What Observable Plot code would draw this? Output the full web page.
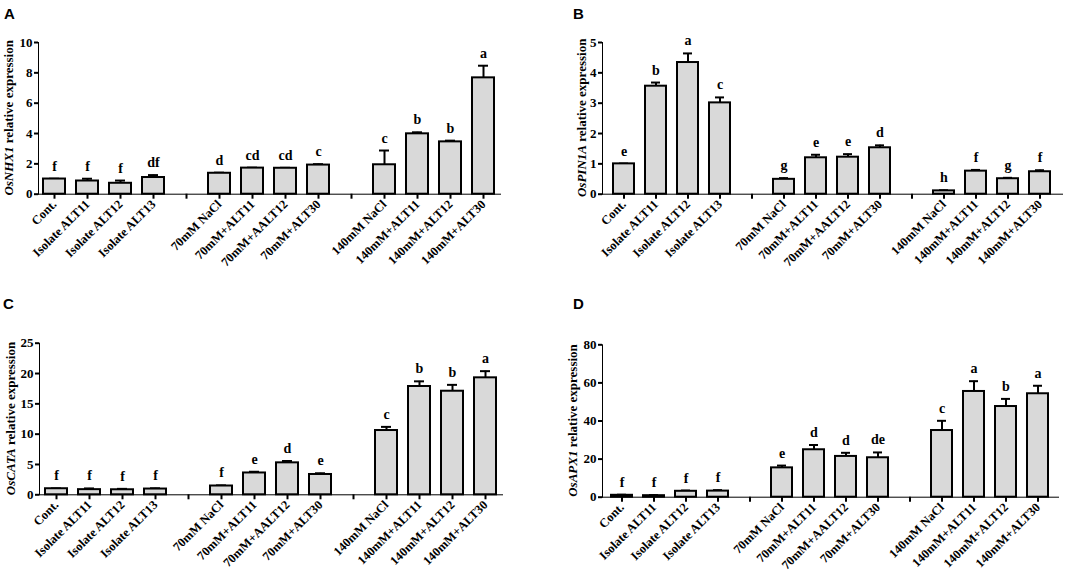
<!DOCTYPE html>
<html><head><meta charset="utf-8">
<script src="https://cdn.jsdelivr.net/npm/d3@7"></script>
<script src="https://cdn.jsdelivr.net/npm/@observablehq/plot@0.6"></script>
<style>
body{margin:0;background:#fff;}
#wrap{position:relative;width:1084px;height:577px;overflow:hidden;background:#fff;}
.panel{position:absolute;}
.plabel{position:absolute;font-family:"Liberation Sans",Arial,sans-serif;font-weight:bold;font-size:15px;line-height:1;color:#000;}
.panel svg text{fill:#000;}
.panel g[aria-label="x-axis tick label"] text{font-size:12.5px;}
.panel g[aria-label*="axis"] line, .panel g[aria-label*="axis"] path{stroke-width:2px;stroke:#000;}
</style>
</head><body>
<div id="wrap"></div>
<script>
// Categories (x axis), with two empty slots separating the three groups
const categories = ["Cont.", "Isolate ALT11", "Isolate ALT12", "Isolate ALT13",
  "70mM NaCl", "70mM+ALT11", "70mM+AALT12", "70mM+ALT30",
  "140mM NaCl", "140mM+ALT11", "140mM+ALT12", "140mM+ALT30"];
const slots = [...categories.slice(0, 4), "gap1", ...categories.slice(4, 8), "gap2", ...categories.slice(8)];

// Panel A: OsNHX1
const nhx1Mean = [1.0, 0.87, 0.72, 1.1, 1.38, 1.72, 1.71, 1.92, 1.94, 3.98, 3.45, 7.67];
const nhx1Err  = [0.02, 0.15, 0.18, 0.16, 0.04, 0.03, 0.03, 0.06, 0.94, 0.1, 0.08, 0.8];
const nhx1Sig  = ["f", "f", "f", "df", "d", "cd", "cd", "c", "c", "b", "b", "a"];
const nhx1Ticks = [0, 2, 4, 6, 8, 10];

// Panel B: OsPIN1A
const pin1aMean = [1.0, 3.56, 4.34, 3.01, 0.49, 1.2, 1.22, 1.53, 0.11, 0.76, 0.51, 0.74];
const pin1aErr  = [0.01, 0.12, 0.3, 0.18, 0.04, 0.1, 0.1, 0.08, 0.02, 0.04, 0.03, 0.05];
const pin1aSig  = ["e", "b", "a", "c", "g", "e", "e", "d", "h", "f", "g", "f"];
const pin1aTicks = [0, 1, 2, 3, 4, 5];

// Panel C: OsCATA
const cataMean = [1.0, 0.85, 0.83, 0.95, 1.45, 3.6, 5.27, 3.35, 10.6, 17.86, 17.08, 19.29];
const cataErr  = [0.05, 0.2, 0.15, 0.12, 0.1, 0.2, 0.3, 0.2, 0.6, 0.85, 1.05, 1.1];
const cataSig  = ["f", "f", "f", "f", "f", "e", "d", "e", "c", "b", "b", "a"];
const cataTicks = [0, 5, 10, 15, 20, 25];

// Panel D: OsAPX1
const apx1Mean = [1.0, 0.8, 3.1, 3.2, 15.4, 24.9, 21.4, 20.7, 35.0, 55.5, 47.6, 54.3];
const apx1Err  = [0.3, 0.3, 0.4, 0.5, 1.2, 2.5, 1.9, 2.8, 5.1, 5.4, 4.0, 4.2];
const apx1Sig  = ["f", "f", "f", "f", "e", "d", "d", "de", "c", "a", "b", "a"];
const apx1Ticks = [0, 20, 40, 60, 80];

const panels = [
  {letter: "A", gene: "OsNHX1", mean: nhx1Mean, err: nhx1Err, sig: nhx1Sig, ticks: nhx1Ticks,
   left: 0, top: 0, width: 540, height: 290, mL: 38, mR: 40, mT: 42, mB: 96.3, titleX: 8, lx: 4, ly: 6},
  {letter: "B", gene: "OsPIN1A", mean: pin1aMean, err: pin1aErr, sig: pin1aSig, ticks: pin1aTicks,
   left: 540, top: 0, width: 544, height: 290, mL: 62, mR: 22, mT: 42, mB: 96.3, titleX: 41, lx: 33, ly: 6},
  {letter: "C", gene: "OsCATA", mean: cataMean, err: cataErr, sig: cataSig, ticks: cataTicks,
   left: 0, top: 290, width: 540, height: 287, mL: 39, mR: 38, mT: 52.7, mB: 82.7, titleX: 10, lx: 3, ly: 6},
  {letter: "D", gene: "OsAPX1", mean: apx1Mean, err: apx1Err, sig: apx1Sig, ticks: apx1Ticks,
   left: 540, top: 290, width: 544, height: 287, mL: 62, mR: 26, mT: 54.3, mB: 80.3, titleX: 32, lx: 33, ly: 6}
];

const wrap = document.getElementById("wrap");

for (const p of panels) {
  const data = categories.map((name, i) => ({name, v: p.mean[i], e: p.err[i], s: p.sig[i]}));
  const top = d => d.v + d.e;
  const chart = Plot.plot({
    width: p.width, height: p.height,
    marginLeft: p.mL, marginRight: p.mR, marginTop: p.mT, marginBottom: p.mB,
    style: {fontFamily: '"Liberation Serif", "Times New Roman", serif', fontWeight: "bold", fontSize: "13px", color: "#000", background: "transparent"},
    x: {domain: slots, paddingInner: 0.33, paddingOuter: 0.15, label: null,
        tickFormat: d => d.startsWith("gap") ? "" : d, tickRotate: -45, tickSize: 5, tickPadding: 3, line: true},
    y: {domain: [p.ticks[0], p.ticks[p.ticks.length - 1]], ticks: p.ticks, tickFormat: d => String(d),
        tickSize: 4, tickPadding: 2, label: null, line: true},
    marks: [
      Plot.ruleX(data, {x: "name", y1: "v", y2: top, stroke: "#000", strokeWidth: 2}),
      Plot.tickY(data, {x: "name", y: top, insetLeft: 6, insetRight: 6, stroke: "#000", strokeWidth: 2}),
      Plot.barY(data, {x: "name", y: "v", fill: "#d9d9d9", stroke: "#000", strokeWidth: 2}),
      Plot.text(data, {x: "name", y: top, text: "s", dy: -8, lineAnchor: "bottom", fontSize: 14, fontWeight: "bold"})
    ]
  });
  const div = document.createElement("div");
  div.className = "panel";
  div.style.left = p.left + "px";
  div.style.top = p.top + "px";
  div.appendChild(chart);
  wrap.appendChild(div);

  // y-axis title with italic gene name
  const cy = (p.mT + (p.height - p.mB)) / 2;
  const t = d3.select(chart).append("text")
    .attr("transform", `translate(${p.titleX},${cy}) rotate(-90)`)
    .attr("text-anchor", "middle")
    .attr("dominant-baseline", "central")
    .attr("font-size", 13)
    .attr("font-weight", "bold")
    .attr("fill", "#000");
  t.append("tspan").attr("font-style", "italic").text(p.gene);
  t.append("tspan").text(" relative expression");

  const lab = document.createElement("div");
  lab.className = "plabel";
  lab.style.left = (p.left + p.lx) + "px";
  lab.style.top = (p.top + p.ly) + "px";
  lab.textContent = p.letter;
  wrap.appendChild(lab);
}
</script>
</body></html>
